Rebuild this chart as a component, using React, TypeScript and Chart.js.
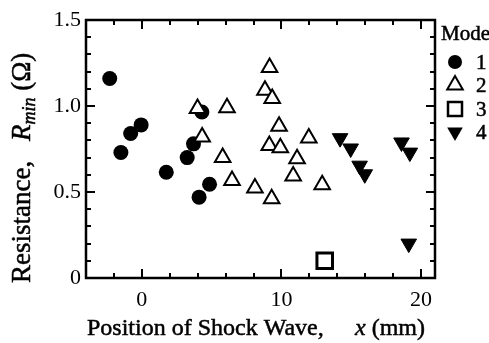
import React, { useEffect, useRef } from 'react';
import { Chart, registerables } from 'chart.js';

Chart.register(...registerables);

// ---- Data ----
const mode1X = [-2.3, -1.5, -0.8, -0.05, 1.75, 3.25, 3.7, 4.3, 4.1, 4.85];
const mode1Y = [1.16, 0.73, 0.84, 0.89, 0.615, 0.7, 0.78, 0.965, 0.47, 0.545];

const mode2X = [3.99, 4.32, 6.1, 5.79, 6.46, 8.1, 9.15, 8.82, 9.34, 9.83, 9.13, 9.92, 9.3, 11.12, 10.84, 11.96, 12.92];
const mode2Y = [0.985, 0.82, 0.99, 0.7, 0.567, 0.523, 1.224, 1.092, 1.043, 0.882, 0.771, 0.757, 0.461, 0.693, 0.593, 0.814, 0.542];

const mode3X = [13.1];
const mode3Y = [0.1];

const mode4X = [14.2, 14.96, 15.6, 15.97, 18.6, 19.2, 19.12];
const mode4Y = [0.813, 0.753, 0.653, 0.603, 0.788, 0.729, 0.2];

const xTickValues = [0, 10, 20];
const xTickLabels = ['0', '10', '20'];
const yTickValues = [0, 0.5, 1.0, 1.5];
const yTickLabels = ['0', '0.5', '1.0', '1.5'];
const xMinorStep = 2;
const yMinorStep = 0.1;

const legendTitle = 'Mode';
const legendLabels = ['1', '2', '3', '4'];

const xTitleMain = 'Position of Shock Wave,';
const xTitleVar = 'x';
const xTitleUnit = '(mm)';
const yTitleMain = 'Resistance,';
const yTitleVar = 'R';
const yTitleSub = 'min';
const yTitleUnit = '(\u03A9)';

const SERIF = '"Liberation Serif", "Times New Roman", serif';

const toPts = (xs: number[], ys: number[]) => xs.map((v, i) => ({ x: v, y: ys[i] }));

function drawMarker(ctx: CanvasRenderingContext2D, kind: number, cx: number, cy: number) {
  ctx.save();
  ctx.strokeStyle = '#000';
  ctx.fillStyle = '#000';
  if (kind === 0) {
    ctx.beginPath();
    ctx.arc(cx, cy, 7, 0, Math.PI * 2);
    ctx.fill();
  } else if (kind === 1 || kind === 3) {
    const r = 9;
    const sgn = kind === 1 ? 1 : -1;
    ctx.beginPath();
    for (let k = 0; k < 3; k++) {
      const a = (k * 2 * Math.PI) / 3;
      const px = cx + Math.sin(a) * r;
      const py = cy - sgn * Math.cos(a) * r;
      if (k === 0) ctx.moveTo(px, py);
      else ctx.lineTo(px, py);
    }
    ctx.closePath();
    if (kind === 1) {
      ctx.fillStyle = '#fff';
      ctx.fill();
      ctx.lineWidth = 2;
      ctx.stroke();
    } else {
      ctx.fill();
    }
  } else {
    const h = 7;
    ctx.fillStyle = '#fff';
    ctx.fillRect(cx - h, cy - h, 2 * h, 2 * h);
    ctx.lineWidth = 2.5;
    ctx.strokeRect(cx - h, cy - h, 2 * h, 2 * h);
  }
  ctx.restore();
}

function boldText(ctx: CanvasRenderingContext2D, t: string, x: number, y: number) {
  ctx.fillText(t, x, y);
  ctx.strokeText(t, x, y);
}

const decorPlugin = {
  id: 'decor',
  afterDraw(chart: any) {
    const { ctx, chartArea: a } = chart;
    const xs = chart.scales.x;
    const ys = chart.scales.y;
    ctx.save();
    ctx.strokeStyle = '#000';
    ctx.lineWidth = 2;
    ctx.lineCap = 'butt';
    const line = (x1: number, y1: number, x2: number, y2: number) => {
      ctx.beginPath();
      ctx.moveTo(x1, y1);
      ctx.lineTo(x2, y2);
      ctx.stroke();
    };
    // inward x ticks (bottom & top)
    for (let v = Math.ceil(xs.min / xMinorStep) * xMinorStep; v <= xs.max + 1e-9; v += xMinorStep) {
      const px = Math.round(xs.getPixelForValue(v));
      if (px <= a.left + 1 || px >= a.right - 1) continue;
      const len = Math.abs(v % 10) < 1e-9 ? 9 : 5;
      line(px, a.bottom, px, a.bottom - len);
      line(px, a.top, px, a.top + len);
    }
    // inward y ticks (left & right)
    const nY = Math.round((ys.max - ys.min) / yMinorStep);
    for (let i = 1; i < nY; i++) {
      const v = ys.min + i * yMinorStep;
      const py = Math.round(ys.getPixelForValue(v));
      const len = i % 5 === 0 ? 9 : 5;
      line(a.left, py, a.left + len, py);
      line(a.right, py, a.right - len, py);
    }
    // frame
    ctx.lineWidth = 2.5;
    ctx.strokeRect(a.left, a.top, a.right - a.left, a.bottom - a.top);

    ctx.fillStyle = '#000';
    ctx.lineWidth = 0.5;
    ctx.textBaseline = 'alphabetic';
    ctx.textAlign = 'left';

    // x title
    ctx.font = `24px ${SERIF}`;
    boldText(ctx, xTitleMain, 87, 335);
    ctx.font = `italic 24px ${SERIF}`;
    boldText(ctx, xTitleVar, 355, 335);
    const wx = ctx.measureText(xTitleVar + ' ').width;
    ctx.font = `24px ${SERIF}`;
    boldText(ctx, xTitleUnit, 355 + wx, 335);

    // y title (rotated)
    ctx.save();
    ctx.translate(30, 283);
    ctx.rotate(-Math.PI / 2);
    ctx.font = `27px ${SERIF}`;
    boldText(ctx, yTitleMain, 0, 0);
    const rStart = 142;
    ctx.font = `italic 27px ${SERIF}`;
    boldText(ctx, yTitleVar, rStart, 0);
    let off = rStart + ctx.measureText(yTitleVar).width;
    ctx.font = `italic 18px ${SERIF}`;
    boldText(ctx, yTitleSub, off, 5);
    off += ctx.measureText(yTitleSub).width;
    ctx.font = `27px ${SERIF}`;
    off += ctx.measureText(' ').width;
    boldText(ctx, yTitleUnit, off, 0);
    ctx.restore();

    // legend
    ctx.font = `21px ${SERIF}`;
    boldText(ctx, legendTitle, 441, 40);
    const rowsY = [62, 85, 109, 132];
    legendLabels.forEach((lab, i) => {
      drawMarker(ctx, i, 455, rowsY[i]);
      ctx.textBaseline = 'middle';
      boldText(ctx, lab, 476, rowsY[i] + 1);
      ctx.textBaseline = 'alphabetic';
    });
    ctx.restore();
  },
};

export default function App() {
  const ref = useRef<HTMLCanvasElement | null>(null);

  useEffect(() => {
    document.body.style.margin = '0';
    const canvas = ref.current;
    if (!canvas) return;
    const tickFont = { family: SERIF, size: 22 };
    const chart = new Chart(canvas, {
      type: 'scatter',
      data: {
        datasets: [
          {
            label: legendLabels[0],
            data: toPts(mode1X, mode1Y),
            pointStyle: 'circle',
            pointRadius: 7.5,
            pointBackgroundColor: '#000',
            pointBorderColor: '#000',
            pointBorderWidth: 0,
            order: 3,
          },
          {
            label: legendLabels[1],
            data: toPts(mode2X, mode2Y),
            pointStyle: 'triangle',
            pointRadius: 9,
            pointBackgroundColor: '#fff',
            pointBorderColor: '#000',
            pointBorderWidth: 2,
            order: 2,
          },
          {
            label: legendLabels[2],
            data: toPts(mode3X, mode3Y),
            pointStyle: 'rect',
            pointRadius: 11,
            pointBackgroundColor: '#fff',
            pointBorderColor: '#000',
            pointBorderWidth: 3,
            order: 1,
          },
          {
            label: legendLabels[3],
            data: toPts(mode4X, mode4Y),
            pointStyle: 'triangle',
            rotation: 180,
            pointRadius: 9,
            pointBackgroundColor: '#000',
            pointBorderColor: '#000',
            pointBorderWidth: 1,
            order: 0,
          } as any,
        ],
      },
      options: {
        animation: false,
        responsive: false,
        devicePixelRatio: 1,
        layout: { padding: { left: 0, top: 20, right: 54, bottom: 0 } },
        plugins: { legend: { display: false }, tooltip: { enabled: false } },
        scales: {
          x: {
            type: 'linear',
            min: -4,
            max: 21,
            grid: { display: false, drawTicks: false },
            border: { display: false },
            afterBuildTicks: (s: any) => {
              s.ticks = xTickValues.map((v) => ({ value: v }));
            },
            afterFit: (s: any) => {
              s.height = 65;
            },
            ticks: {
              font: tickFont,
              color: '#000',
              padding: 9,
              maxRotation: 0,
              callback: (v: any) => {
                const i = xTickValues.indexOf(Number(v));
                return i >= 0 ? xTickLabels[i] : '';
              },
            },
          },
          y: {
            type: 'linear',
            min: 0,
            max: 1.5,
            grid: { display: false, drawTicks: false },
            border: { display: false },
            afterBuildTicks: (s: any) => {
              s.ticks = yTickValues.map((v) => ({ value: v }));
            },
            afterFit: (s: any) => {
              s.width = 86;
            },
            ticks: {
              font: tickFont,
              color: '#000',
              padding: 5,
              callback: (v: any) => {
                const i = yTickValues.findIndex((t) => Math.abs(t - Number(v)) < 1e-9);
                return i >= 0 ? yTickLabels[i] : '';
              },
            },
          },
        },
      },
      plugins: [decorPlugin],
    });
    return () => chart.destroy();
  }, []);

  return (
    <canvas
      ref={ref}
      width={489}
      height={343}
      style={{ position: 'fixed', left: 0, top: 0, width: 489, height: 343, background: '#fff' }}
    />
  );
}
